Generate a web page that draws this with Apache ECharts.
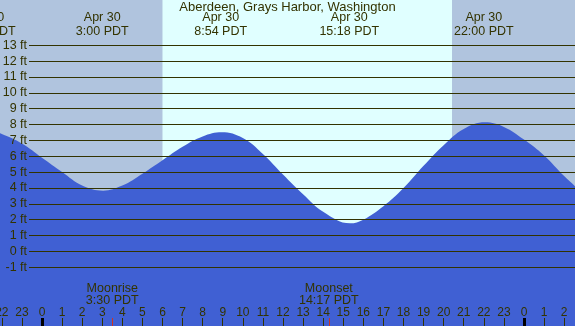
<!DOCTYPE html>
<html><head><meta charset="utf-8">
<script src="https://cdn.jsdelivr.net/npm/echarts@6/dist/echarts.min.js"></script>
<style>html,body{margin:0;padding:0;background:#b0c4de}#c{width:575px;height:326px}</style>
</head><body><div id="c"></div>
<script>
// ---- data ----
const stationTitle = 'Aberdeen, Grays Harbor, Washington';
// hours relative to Apr 30 00:00 PDT, heights in feet
const tideHours = [-3,-2,-1,0,1,2,3.04,4,5,6,7,8,8.95,10,11,12,13,14,15.34,16,17,18,19,20,21,22.06,23,24,25,26,27];
const tideFeet  = [7.85,7.40,6.80,5.90,5.00,4.15,3.83,4.15,4.90,5.75,6.60,7.25,7.51,7.15,6.15,4.85,3.60,2.50,1.77,2.00,2.85,4.00,5.40,6.70,7.72,8.14,7.85,7.05,6.05,4.75,3.60];
const hourTicks = [-2,-1,0,1,2,3,4,5,6,7,8,9,10,11,12,13,14,15,16,17,18,19,20,21,22,23,24,25,26];
const midnightTicks = [0, 24];
const eventHours = [-2.8, 3.0, 8.9, 15.3, 22.0];
const eventDates = ['Apr 30', 'Apr 30', 'Apr 30', 'Apr 30', 'Apr 30'];
const eventTimes = ['21:12 PDT', '3:00 PDT', '8:54 PDT', '15:18 PDT', '22:00 PDT'];
const moonHours = [3.5, 14.2833];
const moonNames = ['Moonrise', 'Moonset'];
const moonTimes = ['3:30 PDT', '14:17 PDT'];
const sunHours = [6.0, 20.42];
const depthMin = -1, depthMax = 13;

// ---- view ----
const xMin = -2.09, xMax = 26.54, yMin = -4.7, yMax = 15.85;
const W = 575, extLeft = 60;
const xMinExt = xMin - extLeft * (xMax - xMin) / W;
const ink = '#333300';
const nightColor = '#b0c4de', dayColor = '#e0ffff', waterColor = '#4060d3';
const font = '"Liberation Sans", Arial, sans-serif';

function nearest(arr, v) {
  let best = 0;
  for (let i = 1; i < arr.length; i++) if (Math.abs(arr[i] - v) < Math.abs(arr[best] - v)) best = i;
  return best;
}

const chart = echarts.init(document.getElementById('c'), null, { renderer: 'canvas' });
chart.setOption({
  animation: false,
  backgroundColor: nightColor,
  textStyle: { fontFamily: font },
  title: { text: stationTitle, left: 'center', top: 1, padding: 0,
    textStyle: { fontSize: 13, fontWeight: 'normal', color: ink, fontFamily: font } },
  grid: [
    { left: 0, right: 0, top: 0, bottom: 0, outerBoundsMode: 'none', containLabel: false },
    { left: 29, right: 0, top: 45.3, bottom: 58.7, outerBoundsMode: 'none', containLabel: false },
    { left: -extLeft, right: 0, top: 0, bottom: 0, outerBoundsMode: 'none', containLabel: false }
  ],
  xAxis: [
    { gridIndex: 0, type: 'value', min: xMin, max: xMax, position: 'bottom', z: 10,
      axisLine: { show: false, onZero: false }, splitLine: { show: false },
      axisTick: { show: true, inside: true, length: 8, customValues: hourTicks, lineStyle: { color: ink, width: 1 } },
      axisLabel: { show: true, inside: true, margin: 6, customValues: hourTicks, hideOverlap: false,
        formatter: v => String(((Math.round(v) % 24) + 24) % 24), color: ink, fontSize: 12, lineHeight: 14, fontFamily: font } },
    { gridIndex: 0, type: 'value', min: xMin, max: xMax, position: 'bottom', z: 11,
      axisLine: { show: false, onZero: false }, splitLine: { show: false },
      axisTick: { show: true, inside: true, length: 8, customValues: midnightTicks, lineStyle: { color: '#000', width: 3 } },
      axisLabel: { show: false } },
    { gridIndex: 0, type: 'value', min: xMin, max: xMax, position: 'bottom', z: 12,
      axisLine: { show: false, onZero: false }, splitLine: { show: false },
      axisTick: { show: true, inside: true, length: 8, customValues: moonHours, lineStyle: { color: '#cc3322', width: 1 } },
      axisLabel: { show: true, inside: true, margin: 19, customValues: moonHours, hideOverlap: false,
        formatter: v => { const i = nearest(moonHours, v); return moonNames[i] + '\n' + moonTimes[i]; },
        color: ink, fontSize: 12.5, lineHeight: 12, fontFamily: font } },
    { gridIndex: 1, type: 'value', min: xMin, max: xMax, show: false, axisLine: { onZero: false } },
    { gridIndex: 2, type: 'value', min: xMinExt, max: xMax, position: 'top', z: 10,
      axisLine: { show: false, onZero: false }, axisTick: { show: false }, splitLine: { show: false },
      axisLabel: { show: true, inside: true, margin: 11, customValues: eventHours, hideOverlap: false,
        formatter: v => { const i = nearest(eventHours, v); return eventDates[i] + '\n' + eventTimes[i]; },
        color: ink, fontSize: 12.5, lineHeight: 14, fontFamily: font } }
  ],
  yAxis: [
    { gridIndex: 0, type: 'value', min: yMin, max: yMax, show: false, axisLine: { onZero: false } },
    { gridIndex: 1, type: 'value', min: depthMin, max: depthMax, interval: 1, z: 10,
      axisLine: { show: false, onZero: false }, axisTick: { show: false },
      axisLabel: { formatter: '{value} ft', margin: 2, color: ink, fontSize: 12.5, fontFamily: font },
      splitLine: { show: true, lineStyle: { color: ink, width: 1 } } },
    { gridIndex: 2, type: 'value', min: 0, max: 1, show: false, axisLine: { onZero: false } }
  ],
  series: [
    { type: 'line', xAxisIndex: 0, yAxisIndex: 0, data: [], z: 1, silent: true,
      markArea: { silent: true, data: [
        [{ xAxis: xMin, itemStyle: { color: nightColor } }, { xAxis: sunHours[0] }],
        [{ xAxis: sunHours[0], itemStyle: { color: dayColor } }, { xAxis: sunHours[1] }],
        [{ xAxis: sunHours[1], itemStyle: { color: nightColor } }, { xAxis: xMax }]
      ] } },
    { type: 'line', xAxisIndex: 0, yAxisIndex: 0, z: 2, silent: true,
      data: tideHours.map((h, i) => [h, tideFeet[i]]),
      smooth: 0.4, showSymbol: false, lineStyle: { width: 0 },
      areaStyle: { color: waterColor, opacity: 1, origin: 'start' } }
  ]
});
</script>
</body></html>
